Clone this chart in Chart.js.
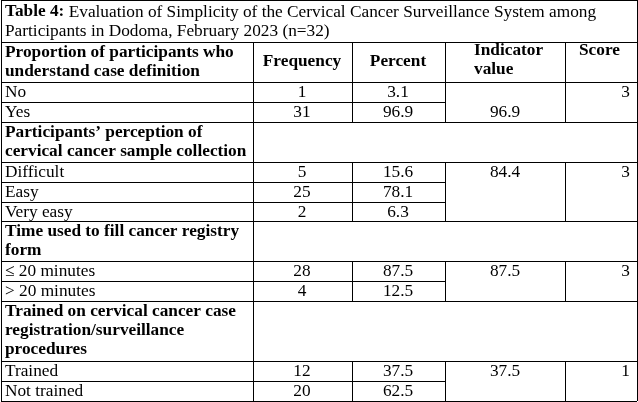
<!DOCTYPE html>
<html>
<head>
<meta charset="utf-8">
<script src="https://cdn.jsdelivr.net/npm/chart.js@4"></script>
<style>
  body { margin: 0; background: #fff; }
  canvas { display: block; }
</style>
</head>
<body>
<canvas id="tbl" width="638" height="402"></canvas>
<script>
// table content
const titleBold = 'Table 4:';
const titleLines = [' Evaluation of Simplicity of the Cervical Cancer Surveillance System among', 'Participants in Dodoma, February 2023 (n=32)'];
const headers = ['Frequency', 'Percent', 'Indicator\nvalue', 'Score'];

const sections = [
  'Proportion of participants who\nunderstand case definition',
  'Participants\u2019 perception of\ncervical cancer sample collection',
  'Time used to fill cancer registry\nform',
  'Trained on cervical cancer case\nregistration/surveillance\nprocedures'
];
const rowLabels = [
  ['No', 'Yes'],
  ['Difficult', 'Easy', 'Very easy'],
  ['\u2264 20 minutes', '> 20 minutes'],
  ['Trained', 'Not trained']
];
const frequency = [[1, 31], [5, 25, 2], [28, 4], [12, 20]];
const percent = [['3.1', '96.9'], ['15.6', '78.1', '6.3'], ['87.5', '12.5'], ['37.5', '62.5']];
const indicator = ['96.9', '84.4', '87.5', '37.5'];
const indicatorRow = [1, 0, 0, 0];
const score = [3, 3, 3, 1];

const cols = [1, 253, 352, 445, 565, 637];
const rowH = 19.8;
const lineH = 19;
const font = '17.3px "Liberation Serif", serif';
const fontB = 'bold 17.3px "Liberation Serif", serif';

const tablePlugin = {
  id: 'tablePlugin',
  afterDraw(chart) {
    const ctx = chart.ctx;
    ctx.save();
    ctx.fillStyle = '#fff';
    ctx.fillRect(0, 0, 638, 402);
    ctx.strokeStyle = '#000';
    ctx.lineWidth = 1;
    ctx.fillStyle = '#000';
    ctx.textBaseline = 'middle';
    const hline = (x1, x2, y) => { ctx.beginPath(); ctx.moveTo(x1, y + 0.5); ctx.lineTo(x2, y + 0.5); ctx.stroke(); };
    const vline = (x, y1, y2) => { ctx.beginPath(); ctx.moveTo(x + 0.5, y1); ctx.lineTo(x + 0.5, y2); ctx.stroke(); };
    const text = (s, x, y, align, bold) => {
      ctx.font = bold ? fontB : font;
      ctx.textAlign = align;
      s.split('\n').forEach((t, i) => ctx.fillText(t, x, y + i * lineH));
    };

    // title
    let y = 0;
    ctx.font = fontB; ctx.textAlign = 'left';
    ctx.fillText(titleBold, 5, 12);
    const bw = ctx.measureText(titleBold).width;
    text(titleLines[0], 5 + bw, 12, 'left', false);
    text(titleLines[1], 5, 31, 'left', false);
    hline(cols[0], cols[5], 0);
    vline(cols[0], 0, 401); vline(cols[5], 0, 401);
    y = 42;
    hline(cols[0], cols[5], y);

    sections.forEach((sec, si) => {
      const nl = sec.split('\n').length;
      const hh = Math.max(2, nl) * 20;
      text(sec, 5, y + 11, 'left', true);
      vline(cols[1], y, y + hh);
      if (si === 0) {
        for (let c = 2; c <= 4; c++) vline(cols[c], y, y + hh);
        text(headers[0], 302, y + 20, 'center', true);
        text(headers[1], 398, y + 20, 'center', true);
        text(headers[2], 474, y + 9, 'left', true);
        text(headers[3], 579, y + 9, 'left', true);
      }
      y += hh;
      hline(cols[0], cols[5], y);
      const top = y;
      rowLabels[si].forEach((lab, ri) => {
        const cy = y + rowH / 2 + 0.5;
        text(lab, 5, cy, 'left', false);
        text(String(frequency[si][ri]), 302, cy, 'center', false);
        text(percent[si][ri], 398, cy, 'center', false);
        if (ri === indicatorRow[si]) text(indicator[si], 505, cy, 'center', false);
        if (ri === 0) text(String(score[si]), 630, cy, 'right', false);
        y += rowH;
        if (ri < rowLabels[si].length - 1) hline(cols[0], cols[3], Math.round(y));
      });
      y = Math.round(y);
      for (let c = 1; c <= 4; c++) vline(cols[c], top, y);
      hline(cols[0], cols[5], y);
    });
    ctx.restore();
  }
};

new Chart(document.getElementById('tbl'), {
  type: 'bar',
  data: { labels: [], datasets: [] },
  options: {
    responsive: false,
    animation: false,
    scales: { x: { display: false }, y: { display: false } },
    plugins: { legend: { display: false }, tooltip: { enabled: false } }
  },
  plugins: [tablePlugin]
});
</script>
</body>
</html>
